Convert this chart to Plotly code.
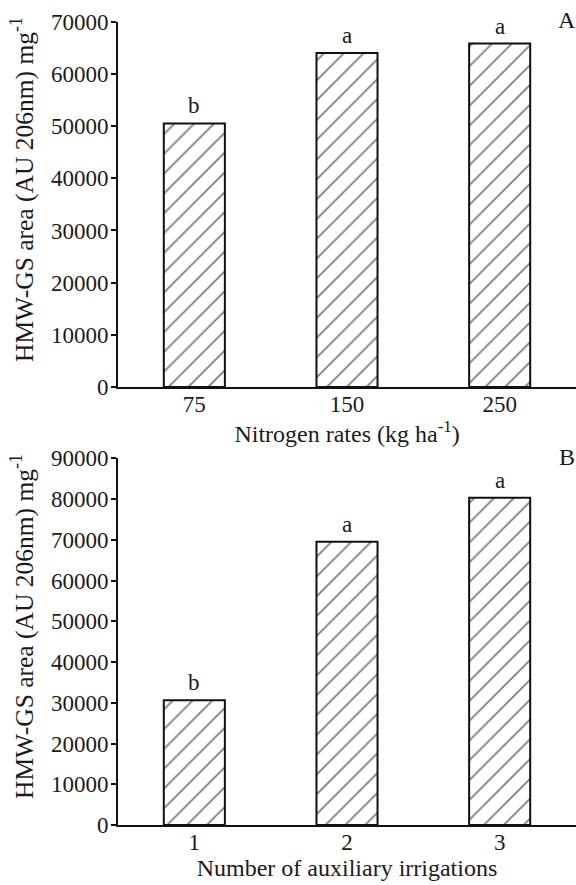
import plotly.graph_objects as go

# Panel A data
nitrogen_rates = ["75", "150", "250"]
nitrogen_values = [50500, 64000, 65800]
nitrogen_letters = ["b", "a", "a"]

# Panel B data
irrigations = ["1", "2", "3"]
irrigation_values = [30600, 69500, 80300]
irrigation_letters = ["b", "a", "a"]

y_ticks_a = [0, 10000, 20000, 30000, 40000, 50000, 60000, 70000]
y_ticks_b = [0, 10000, 20000, 30000, 40000, 50000, 60000, 70000, 80000, 90000]

FONT = "Liberation Serif"
TXT = "#1a1a1a"
W, H = 576, 885
L = 118

fig = go.Figure()

pattern = dict(shape="/", fgcolor="#000000", bgcolor="white", size=14, solidity=0.13)

fig.add_trace(go.Bar(
    x=nitrogen_rates, y=nitrogen_values, xaxis="x", yaxis="y", width=0.4,
    marker=dict(color="white", pattern=pattern, line=dict(color="#111111", width=2)),
    showlegend=False, hoverinfo="x+y",
))
fig.add_trace(go.Bar(
    x=irrigations, y=irrigation_values, xaxis="x2", yaxis="y2", width=0.4,
    marker=dict(color="white", pattern=pattern, line=dict(color="#111111", width=2)),
    showlegend=False, hoverinfo="x+y",
))

annotations = []
for i, (v, lab) in enumerate(zip(nitrogen_values, nitrogen_letters)):
    annotations.append(dict(x=i, y=v, xref="x", yref="y", text=lab, showarrow=False,
                            yanchor="bottom", yshift=3, font=dict(family=FONT, size=23, color=TXT)))
for i, (v, lab) in enumerate(zip(irrigation_values, irrigation_letters)):
    annotations.append(dict(x=i, y=v, xref="x2", yref="y2", text=lab, showarrow=False,
                            yanchor="bottom", yshift=3, font=dict(family=FONT, size=23, color=TXT)))
annotations.append(dict(x=0.98, y=0.9775, xref="paper", yref="paper", text="A", showarrow=False,
                        xanchor="center", yanchor="middle", font=dict(family=FONT, size=24, color=TXT)))
annotations.append(dict(x=0.98, y=0.4836, xref="paper", yref="paper", text="B", showarrow=False,
                        xanchor="center", yanchor="middle", font=dict(family=FONT, size=24, color=TXT)))

# y-axis titles (rotated)
ytitle = "HMW-GS area (AU 206nm) mg<sup>-1</sup>"
title_x = (22 - L) / (W - L)
for ypix in (190, 627):
    annotations.append(dict(x=title_x, y=1 - ypix / H, xref="paper", yref="paper", text=ytitle,
                            showarrow=False, textangle=-90, xanchor="center", yanchor="middle",
                            font=dict(family=FONT, size=25.5, color=TXT)))

xaxis_common = dict(
    type="category", range=[-0.5, 2.5], showline=True, linecolor="#111111", linewidth=2,
    ticks="", showgrid=False, zeroline=False, automargin=False, ticklabelstandoff=-5,
    tickfont=dict(family=FONT, size=23, color=TXT),
)
yaxis_common = dict(
    showline=True, linecolor="#111111", linewidth=2, ticks="outside", ticklen=5,
    tickwidth=1.5, tickcolor="#111111", showgrid=False, zeroline=False, automargin=False,
    ticklabelstandoff=-2,
    tickfont=dict(family=FONT, size=23, color=TXT),
)

fig.update_layout(
    width=W, height=H,
    margin=dict(l=L, r=0, t=0, b=0),
    paper_bgcolor="white", plot_bgcolor="white",
    font=dict(family=FONT, color=TXT),
    xaxis=dict(xaxis_common, domain=[0, 1], anchor="y",
               title=dict(text="Nitrogen rates (kg ha<sup>-1</sup>)", font=dict(family=FONT, size=24, color=TXT), standoff=0)),
    yaxis=dict(yaxis_common, domain=[0.5627, 0.9755], anchor="x", range=[0, 70000],
               tickvals=y_ticks_a, ticktext=[str(v) for v in y_ticks_a]),
    xaxis2=dict(xaxis_common, domain=[0, 1], anchor="y2",
                title=dict(text="Number of auxiliary irrigations", font=dict(family=FONT, size=24, color=TXT), standoff=0)),
    yaxis2=dict(yaxis_common, domain=[0.0678, 0.4821], anchor="x2", range=[0, 90000],
                tickvals=y_ticks_b, ticktext=[str(v) for v in y_ticks_b]),
    annotations=annotations,
    bargap=0.6,
)

fig.write_html("out.html", config={"displayModeBar": False},
               post_script="document.body.style.margin='0';document.body.style.padding='0';document.body.style.overflow='hidden';")
